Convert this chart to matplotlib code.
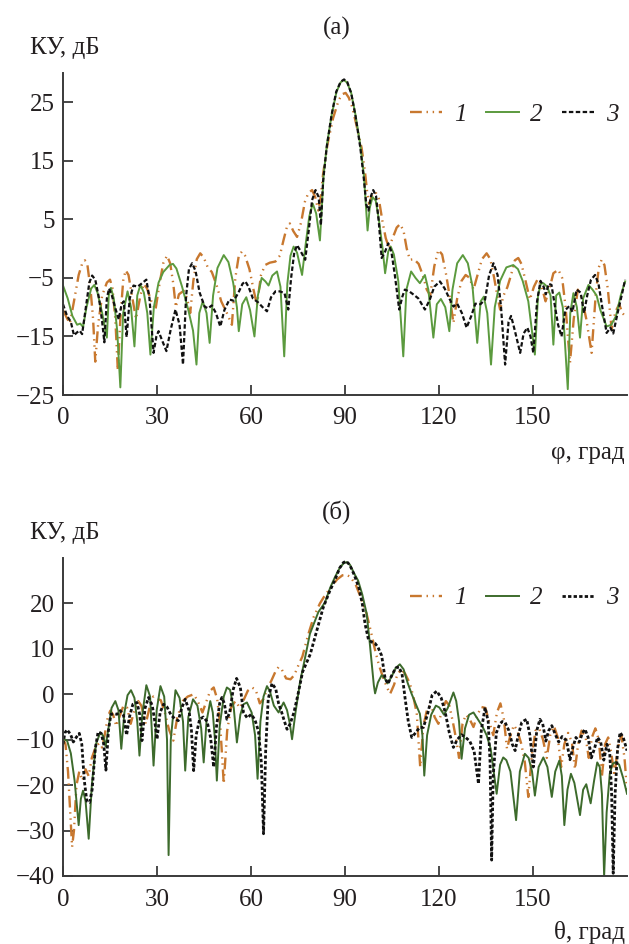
import numpy as np
import matplotlib
matplotlib.use("Agg")
import matplotlib.pyplot as plt

plt.rcParams['font.family'] = ['Liberation Serif', 'DejaVu Serif']
plt.rcParams['font.size'] = 18
plt.rcParams['axes.unicode_minus'] = True

# (a) gain vs phi: (deg, dB)
phi_1 = [(0, -10.5), (1.2, -11.8), (2.2, -12.8), (3.5, -9), (5, -4.5), (6.2, -2.4), (7, -2), (7.8, -2.8),
         (8.8, -7), (9.6, -12), (10.3, -19.3), (11.2, -13), (12.5, -8), (14, -5.8), (15, -5.3), (15.8, -6.8),
         (16.7, -12), (17.5, -20.8), (18.3, -12), (19.2, -5.5), (20, -3.7), (20.9, -4.5), (22, -8), (23.3, -12),
         (24.7, -8), (25.8, -6), (26.8, -6.8), (28.2, -9), (29.5, -10.5), (30.8, -6), (32, -2.5), (33.2, -1.2),
         (34.2, -2.5), (35.2, -6), (36, -10), (37, -7.8), (38.5, -7.2), (39.6, -8.5), (40.6, -11), (41.6, -5.5),
         (42.7, -1.8), (43.8, -0.8), (44.9, -1.5), (46.2, -3.2), (47.5, -4), (49, -6.2), (50.5, -9), (52.3, -11),
         (53.9, -13), (55, -5), (56.1, -1.2), (57.1, -0.5), (58.1, -1.2), (59.5, -3.5), (60.8, -7), (61.9, -9.6),
         (63.2, -4.5), (64.5, -2.8), (66, -2.4), (67.8, -2.2), (69.2, -1.2), (70.4, 1.5), (71.5, 3.8), (72.4, 4.3),
         (73.5, 3), (74.7, 2), (76, 4.5), (77.2, 8), (78.3, 9.5), (79.5, 10), (80.5, 8.8), (81.5, 6.5), (82.3, 9),
         (83, 12.7), (84.4, 17.8), (86.2, 22.3), (88, 25.4), (89.2, 26.4), (90.2, 26.6), (91.2, 25.8), (92.3, 24.2),
         (93.7, 21), (95.3, 17.2), (96.4, 13), (97.1, 9.5), (97.7, 7.6), (98.7, 9.3), (99.8, 9.6), (100.8, 8.5),
         (102, 4.5), (103, 1.8), (104, 0.2), (105.2, 1.8), (106.5, 3.6), (107.6, 4.2), (108.7, 3), (109.7, 0),
         (110.7, -1.9), (112, -1.8), (113.5, -2.6), (114.8, -4.5), (116.1, -7), (117.2, -8), (118.5, -3),
         (119.8, -0.2), (121, -1), (122.3, -4.5), (123.5, -8.5), (124.6, -12.7), (125.8, -8.5), (127.2, -5.5),
         (128.5, -4.5), (129.8, -5), (131, -7), (132.3, -4.5), (133.7, -1.8), (135.2, -0.8), (136.4, -1.8),
         (137.6, -5), (138.6, -8), (139.5, -10.4), (140.6, -8), (141.8, -6.6), (143, -4.5), (144.2, -2),
         (145.3, -1.6), (146.3, -2.6), (147.4, -5), (149, -8.7), (150.3, -6.5), (151.5, -5.2), (152.8, -6.5),
         (154, -9), (155.2, -7), (156.5, -4.2), (158.1, -3.6), (159.3, -5), (160.4, -10), (161.8, -19.5),
         (163, -12), (164.3, -7), (165.6, -8.5), (167, -12), (168.7, -17.8), (170, -8), (171, -3.2), (171.9, -1.9),
         (172.8, -2.8), (173.9, -7), (175.1, -13.8), (176.3, -10.8), (177.5, -9.5), (178.5, -11), (179.4, -11.5)]

phi_2 = [(0, -6.3), (1.5, -8.5), (3, -11.5), (4.5, -13), (5.5, -12.8), (6.4, -13.4), (7.5, -10), (9, -6.8),
         (10, -6.2), (11, -7.5), (12.5, -11), (14, -15.2), (14.6, -8), (15.3, -6.7), (16.2, -8.5), (17.3, -14),
         (18.3, -23.7), (19.2, -11), (20.6, -7.3), (21.7, -10), (22.8, -16.7), (23.7, -8), (24.7, -6.2),
         (25.8, -7.5), (26.9, -11), (27.9, -18.1), (29, -10), (30.5, -5.8), (32, -4), (34, -2.8), (35.1, -2.6),
         (36.2, -3.4), (38, -6.5), (40, -10.5), (41.5, -14), (42.6, -19.8), (43.5, -11), (44.6, -9), (45.8, -11),
         (46.8, -16.1), (47.9, -8), (49.3, -3.3), (51.3, -1.1), (52.8, -2.3), (54.3, -5.8), (55.5, -10),
         (56.1, -14.1), (57.2, -9.5), (58.5, -8.3), (59.7, -10.5), (61.1, -15), (62.2, -8), (63.4, -5),
         (64.6, -5.6), (65.6, -6.3), (66.8, -4.6), (68.3, -3.9), (69.4, -6.5), (70.6, -18.4), (71.6, -6),
         (72.6, -1.2), (73.6, 0.35), (74.7, -0.7), (76.3, -4.5), (77.5, 1), (78.6, 5.5), (79.7, 7.7), (80.8, 6),
         (82, 1.4), (82.6, 7), (83.2, 12.7), (84.3, 18), (85.8, 23), (87.3, 26.8), (88.6, 28.4), (89.6, 28.8),
         (90.6, 28.4), (91.9, 26.8), (93.3, 23), (94.8, 18), (96.0, 12.7), (96.7, 7), (97.2, 3.1), (97.9, 7),
         (98.8, 8.8), (99.8, 8.2), (100.8, 5), (102.0, 0), (102.8, -4.2), (103.8, -0.5), (104.6, 0.35),
         (105.6, -1), (107, -5.5), (108.6, -18.4), (109.6, -7), (111.1, -3.9), (112.5, -5), (113.9, -5.9),
         (115.5, -4.5), (116.6, -7), (118.2, -15.2), (119.3, -9.5), (120.6, -8.6), (122, -10), (123.3, -14.1),
         (124.3, -7), (125.8, -2.5), (127.6, -1.1), (129.2, -2.5), (130.7, -6.5), (132.2, -16.1), (133.3, -9),
         (134.3, -8.2), (135.4, -11), (136.6, -19.8), (137.8, -10), (139.5, -5.5), (141.5, -3.2), (143.7, -2.8),
         (145.2, -3.5), (146.7, -5.5), (148.5, -9), (150.6, -18.1), (151.6, -8), (152.5, -6), (153.3, -5.9),
         (154.5, -6.5), (155.6, -8), (156.5, -16.4), (157.4, -8), (158.4, -7.5), (159.5, -10), (161.1, -24),
         (161.9, -11), (162.9, -7.6), (164, -10), (165, -15.2), (166, -8.5), (167.7, -6.2), (169, -7),
         (170.3, -8), (171.5, -10.5), (173.5, -13.3), (175, -13), (176.5, -11.5), (178, -8), (179.4, -5.6)]

phi_3 = [(0, -9.5), (1.3, -11.5), (2.5, -12.5), (3.5, -14.8), (4.5, -14.3), (5.3, -14.0), (6.1, -14.6),
         (7.3, -10), (8.4, -5.8), (9.3, -4.6), (10.3, -5.3), (11.5, -8.5), (12.5, -12.5), (13.2, -16), (14, -8.5),
         (14.7, -6.8), (15.6, -8), (16.6, -10), (17.8, -12.1), (18.7, -9.5), (19.4, -9), (20.3, -15.1),
         (21.3, -8.5), (22.5, -6.3), (23.8, -6.5), (25, -6), (26.6, -5.3), (27.6, -8.5), (28.9, -17.8),
         (29.8, -15), (30.5, -14.1), (31.5, -15.5), (33, -17.5), (34.3, -14), (35.9, -10.4), (37.2, -13),
         (38.3, -19.8), (39.3, -8), (40.2, -3.5), (41.2, -2.5), (42.3, -3.8), (43.6, -7.5), (45.2, -9.9),
         (46.3, -10.2), (47.5, -9.7), (48.8, -11), (50.2, -13.3), (51.5, -10.5), (53.1, -8.7), (54.5, -8.9),
         (56, -7.5), (57.3, -6), (58.2, -5.6), (59.2, -6.5), (60.6, -8.5), (62.3, -9.2), (63.7, -10),
         (65.1, -10.7), (66.4, -8.3), (67.8, -7.3), (69.2, -7.3), (70.7, -7.6), (71.9, -10.4), (72.8, -5),
         (73.8, -0.7), (74.7, 0.6), (75.7, -0.3), (77.3, -1.9), (78.4, 3), (79.5, 8.3), (80.6, 10), (81.6, 8.8),
         (82.3, 4), (83, 11.5), (84.2, 17.5), (85.7, 22.8), (87.2, 26.8), (88.6, 28.5), (89.7, 28.9),
         (90.7, 28.5), (92, 26.5), (93.4, 22.5), (94.9, 17.2), (96.1, 11.5), (96.8, 7.5), (97.5, 6.5), (98.3, 9),
         (99, 10), (99.9, 9), (100.8, 4.5), (101.7, -1.6), (102.8, -0.5), (103.8, 0.9), (104.8, -0.5),
         (105.9, -4.5), (107.3, -10.4), (108.3, -8.2), (109.1, -7), (110.5, -7.3), (112, -7.9), (113.4, -8.5),
         (115.5, -10.4), (117, -8.8), (118.5, -6.5), (120.3, -5.6), (121.8, -6.8), (123.2, -8.4), (124.6, -9.9),
         (125.8, -9.4), (127.3, -11), (128.8, -13.5), (130.3, -11.5), (131.6, -9.4), (133.2, -9.5),
         (134.7, -8.7), (136, -4.5), (137.4, -2.5), (138.7, -4.5), (139.8, -10), (141.1, -19.8), (142.2, -12.5),
         (143, -11.5), (144.2, -14), (145.9, -17.8), (147, -14.5), (148.2, -13.5), (149.2, -15), (150.1, -17.8),
         (151.3, -9), (152.4, -5.5), (153.4, -6.5), (154.1, -7.8), (155.0, -6), (155.9, -6.2), (156.9, -9.5),
         (158, -13), (159.1, -15), (160.3, -10.5), (161.6, -9.8), (162.6, -10.8), (163.9, -7), (165.2, -7.5),
         (166.3, -11), (167.3, -8), (168.5, -5.3), (169.8, -4.5), (170.9, -6), (172.1, -10), (173.5, -14.4),
         (174.7, -13.5), (175.6, -14.5), (177, -11), (178.3, -8), (179.4, -5.3)]

# (б) gain vs theta
theta_1 = [(0, -9.8), (0.8, -11), (1.6, -17), (2.3, -26), (2.9, -33.6), (3.5, -30), (4.3, -20), (5.2, -17),
           (6.2, -19), (7.2, -16.5), (8.2, -18), (9.2, -14), (10.5, -11.5), (11.5, -10.8), (12.4, -11.7),
           (13.3, -9), (14.3, -5), (15.1, -3.6), (16, -4.5), (17, -7), (18, -5), (19.3, -2.5), (20.5, -3),
           (21.6, -6.5), (22.6, -4), (24, -1.5), (25, -2.5), (26.4, -6.5), (27.6, -3), (28.8, -0.5), (30, -1),
           (31.2, -1.3), (32.5, -4), (33.8, -7.7), (35.2, -10.2), (36.5, -5), (38.2, -1.5), (39.8, -0.5),
           (41.7, 0), (43, -1.5), (44.5, -4), (45.8, -1.5), (47, 0.8), (48.1, 1.5), (49.2, -1), (50.2, -7),
           (51.3, -19.7), (52.4, -8), (53.6, -3), (55, -1.5), (56.5, -3), (57.8, -1), (59, 0.8), (60.3, 1.5),
           (61.5, 1), (62.8, -2), (64, -1), (65.1, 1.1), (66.5, 3), (67.8, 5), (68.8, 6), (69.8, 5.5), (71.2, 3.5),
           (72.6, 3.3), (73.8, 4.2), (75.2, 6.5), (76.4, 8.3), (78.2, 13), (80, 17), (82, 20), (83.6, 21.8),
           (85.5, 23.5), (87.5, 25.3), (89.2, 26.2), (90.5, 26.3), (91.8, 25.8), (93.5, 24), (95.2, 21),
           (96.9, 17.7), (98.2, 14), (99.5, 10), (100.8, 6.5), (102, 4), (103.4, 1.5), (104.4, 0.1), (105.6, 2),
           (106.8, 4.5), (108, 5.5), (109.2, 4.5), (110.7, 2.4), (111.8, -0.5), (112.9, -4.2), (114, -16),
           (115, -7), (116.3, -3), (117.5, -2.5), (118.6, -5), (119.8, -6.5), (121, -3.5), (122.2, -1.5),
           (123.3, -2.5), (124.4, -6), (125.5, -10), (126.4, -14), (127.5, -6.5), (128.6, -4.5), (129.8, -5.5),
           (131, -7.2), (132.3, -4.5), (133.5, -2.8), (134.8, -3), (136, -6), (137.3, -9), (138.5, -4),
           (139.6, -2), (140.7, -5.5), (141.7, -12), (142.8, -9), (143.9, -6.8), (145, -8), (146.3, -11),
           (147.4, -15), (148.5, -22.6), (149.6, -13.5), (150.8, -8), (152, -7.5), (153.2, -10), (154.4, -14),
           (155.5, -9), (156.7, -7), (157.9, -9.5), (159, -16), (160, -11), (161.2, -8.5), (162.4, -10.5),
           (163.4, -16.5), (164.4, -11), (165.5, -8), (166.8, -9.5), (167.8, -14), (168.8, -9.5), (169.9, -7.5),
           (171, -10), (172, -18), (173, -11), (174, -9.5), (175, -13), (176, -18), (177, -12), (178.2, -9),
           (179.2, -14), (180, -21)]

theta_2 = [(0, -9.8), (1.3, -10.2), (2.5, -13), (3.7, -19), (5, -28.8), (5.7, -23), (6.4, -21.2), (7.2, -23.5),
           (8.2, -31.8), (9.2, -20), (10.5, -11), (11.9, -8.4), (12.9, -9.2), (13.6, -11.5), (14.4, -8), (15.5, -3),
           (16.7, -1.5), (17.7, -3.5), (18.6, -12), (19.6, -4), (20.6, -0.2), (21.7, 0.9), (22.8, -0.8),
           (23.7, -6), (24.4, -13.5), (25.3, -4.5), (26.6, 2), (27.8, -0.5), (28.9, -15.7), (29.9, -3.5),
           (31.1, 1.8), (32.3, -0.5), (33.2, -10), (33.7, -35.4), (34.4, -10), (35.9, 0.9), (37.2, -0.8),
           (38.3, -6), (39, -16.8), (40, -5), (41.5, -1.1), (42.9, -2.5), (44.1, -7.5), (44.9, -15), (45.8, -6),
           (47, -1.5), (47.8, -4), (48.5, -10), (49.1, -19), (50, -7), (51.3, -0.5), (52.3, 1.5), (53.3, 1),
           (54.5, -3), (55.5, -10.6), (56.6, -4.5), (57.6, -2.2), (58.7, -1.8), (60.2, -4), (61.3, -9),
           (62.1, -18.6), (63, -6), (64, -0.5), (65.1, 1.8), (66.1, 0.5), (67.3, -2.5), (68.8, -4), (70.4, -1.8),
           (71.5, -3.5), (72.4, -6.5), (73.1, -9.9), (74.2, -4), (75.7, 2.9), (76.8, 6.5), (78.8, 13.3),
           (81.5, 18.1), (83.6, 20.2), (85.3, 23.5), (86.8, 25.8), (88.3, 27.8), (89.5, 28.8), (90.5, 29.1),
           (91.6, 28.5), (93, 26.5), (94.2, 25), (95.5, 22), (96.9, 17.8), (97.8, 12), (98.5, 7), (99.2, 2),
           (99.6, 0.2), (100.5, 2.6), (101.7, 4.2), (102.7, 3.5), (103.6, 2.4), (104.8, 3.8), (106.2, 5.8),
           (107.5, 6.6), (108.7, 5.5), (110, 2.5), (111.2, 0.2), (112.5, -2), (113.9, -4.3), (114.7, -9),
           (115.3, -17.9), (116.2, -9), (117.5, -4.5), (119, -2.5), (120.1, -2.9), (121.6, -4.5), (122.8, -3),
           (124.6, 0.4), (125.5, -1.5), (126.4, -6), (127.2, -14.2), (128.3, -7.5), (129.6, -4.5), (131, -4),
           (132.4, -5.5), (133.8, -7), (135.2, -9), (136.5, -12), (138.4, -21.9), (139.5, -15.5), (140.5, -13.9),
           (141.5, -14.5), (142.8, -17), (144.6, -27.7), (145.8, -17), (147.4, -13.1), (148.6, -14), (149.7, -17),
           (150.6, -22.3), (151.8, -16), (153.3, -13.9), (154.6, -16), (156, -22.6), (157.1, -17), (158.4, -14.6),
           (159.2, -18), (160, -28.8), (161, -21), (162.1, -17.5), (163.2, -19.5), (165, -26.6), (166, -21),
           (167, -19.8), (168.4, -24), (169.5, -19), (170.5, -15), (171.3, -16), (172, -22), (172.7, -40),
           (173.5, -26), (174.5, -17.5), (175.4, -15.3), (176.5, -14.9), (177.5, -15.5), (178.8, -18.5),
           (180, -21.9)]

theta_3 = [(0, -11), (0.6, -8.5), (1.3, -7.8), (2.4, -8.8), (3.3, -10.5), (4.2, -9.5), (5.2, -8.6), (6.0, -11),
           (6.8, -19), (7.6, -23.5), (8.5, -23.8), (9.3, -21), (10.3, -12), (11.2, -8.3), (12.2, -8.6), (13, -11),
           (13.7, -16.7), (14.5, -8), (15.3, -4.4), (16.2, -4.3), (17.2, -4.4), (18.3, -3.6), (19.3, -4.6),
           (20.3, -9), (21.2, -5), (22.3, -2.2), (23.6, -1.8), (24.5, -4.5), (25.2, -10.2), (26.2, -3),
           (27.3, -0.7), (28.5, -2.5), (29.3, -6), (30, -9.9), (31, -4), (32.1, -2.2), (33.2, -2.8), (34.5, -4.6),
           (35.9, -5.5), (36.8, -5.8), (37.9, -3), (39, -1.1), (40.2, -3.5), (41, -8), (41.7, -16.8), (42.5, -9),
           (43.6, -5.5), (44.8, -5), (46, -6), (47.1, -9.5), (48.1, -16), (49, -7), (50, -2), (50.7, -0.7),
           (51.5, -2), (52.3, -5.5), (53.2, -4), (54.3, 1), (55.4, 3.5), (56.6, 1.5), (57.6, -4), (58.8, -5.2),
           (60.1, -4.4), (61.3, -5.7), (62.4, -8.2), (63.3, -15), (64, -30.7), (64.7, -12), (65.5, -1), (66.7, 2.4),
           (67.9, 1.2), (68.8, -2), (69.8, -4), (70.6, -5.8), (71.5, -7.7), (72.5, -6.5), (73.7, -4), (75, 0),
           (76.5, 5), (78.9, 8.8), (81, 14), (83, 19), (85, 22.5), (86.8, 25.2), (88.3, 27.8), (89.5, 29),
           (90.4, 29.3), (91.5, 28.5), (93, 26.2), (94.4, 23.5), (95.5, 20), (96.4, 15.5), (97.5, 12), (98.5, 11.5),
           (99.6, 11.2), (100.5, 10.4), (101.7, 8.5), (102.8, 3.5), (103.7, 2.3), (104.8, 4), (106.2, 5.8),
           (107.2, 6), (108.2, 4.5), (109.2, -1), (110.2, -6), (111.3, -9.5), (112.5, -8.5), (113.8, -7.3),
           (115, -7.3), (116.3, -4.5), (117.8, -0.2), (119.3, 0.7), (120.7, -0.8), (122, -4), (123.3, -8.5),
           (124.6, -11.7), (125.8, -10), (127.2, -8.9), (128.5, -9.5), (129.8, -10.3), (131.2, -12.5),
           (132.6, -19.7), (133.5, -8), (134.7, -2.9), (135.7, -6), (136.3, -15), (136.8, -36.5), (137.3, -18),
           (138.3, -8.5), (139.4, -6.5), (140.2, -6), (141.1, -6.2), (142.3, -8), (143.4, -11), (144.3, -12.4),
           (145.3, -9), (146.4, -6.2), (147.2, -5.8), (148, -5.5), (149, -9), (150.1, -16), (151.2, -8),
           (152.2, -5.5), (153.1, -6.5), (154.1, -10.3), (155, -8), (156, -6.9), (157.1, -8.8), (158.2, -10.5),
           (159.3, -9.3), (160.7, -10.2), (161.8, -14.4), (162.8, -11.5), (163.7, -9.5), (164.8, -10.5),
           (165.8, -8.5), (166.6, -7.7), (167.6, -9.5), (168.6, -14), (169.6, -12), (170.6, -9.5), (171.6, -10.5),
           (172.6, -14.5), (173.6, -11), (174.5, -13), (175.1, -22), (175.6, -39.4), (176.2, -22), (177, -12),
           (177.8, -8.4), (178.8, -9.5), (180, -12.4)]

labels = ['1', '2', '3']
x_ticks = [0, 30, 60, 90, 120, 150]
y_ticks_a = [-25, -15, -5, 5, 15, 25]
y_ticks_b = [-40, -30, -20, -10, 0, 10, 20]

TXT = '#231f20'
ORANGE = '#c8782f'


def draw(ax, s1, s2, s3, green, black_lw, black_dash, yticks, ylim, leg_y):
    x, y = np.array(s1).T
    ax.plot(x, y, color=ORANGE, lw=1.7, dashes=(5, 2, 0.6, 2, 0.6, 2), label=labels[0])
    x, y = np.array(s2).T
    ax.plot(x, y, color=green, lw=1.4, label=labels[1])
    x, y = np.array(s3).T
    ax.plot(x, y, color='#111111', lw=black_lw, dashes=black_dash, label=labels[2])

    ax.set_xlim(0, 180)
    ax.set_ylim(*ylim)
    ax.set_xticks(x_ticks)
    ax.set_yticks(yticks)
    for s in ['top', 'right']:
        ax.spines[s].set_visible(False)
    for s in ['left', 'bottom']:
        ax.spines[s].set_linewidth(1.4)
        ax.spines[s].set_color('#3a3a3a')
    ax.tick_params(direction='in', length=7, width=1.3, color='#3a3a3a', labelcolor=TXT, labelsize=18)
    ax.tick_params(axis='x', pad=9)
    ax.tick_params(axis='y', pad=6)
    leg = ax.legend(loc='center left', bbox_to_anchor=(0.615, leg_y), ncol=3, frameon=False,
                    handlelength=1.3, handletextpad=0.45, columnspacing=0.8, borderpad=0, borderaxespad=0,
                    prop={'style': 'italic', 'size': 18})
    for t in leg.get_texts():
        t.set_color(TXT)


fig = plt.figure(figsize=(6.29, 9.44), dpi=100)
ax1 = fig.add_axes([63 / 629, 1 - 395 / 944, 564 / 629, 322 / 944])
ax2 = fig.add_axes([63 / 629, 1 - 876 / 944, 564 / 629, 318 / 944])

draw(ax1, phi_1, phi_2, phi_3, '#5b9a3e', 1.6, (2.0, 1.1), y_ticks_a, (-25, 30), 0.87)
draw(ax2, theta_1, theta_2, theta_3, '#3d6b2c', 2.0, (1.2, 0.8), y_ticks_b, (-40, 30), 0.874)

fig.text(337 / 629, 1 - 28 / 944, '(a)', ha='center', va='center', color=TXT)
fig.text(337 / 629, 1 - 512 / 944, '(б)', ha='center', va='center', color=TXT)
fig.text(30 / 629, 1 - 48 / 944, 'КУ, дБ', ha='left', va='center', color=TXT)
fig.text(30 / 629, 1 - 533 / 944, 'КУ, дБ', ha='left', va='center', color=TXT)
fig.text(625 / 629, 1 - 453 / 944, 'φ, град', ha='right', va='center', color=TXT)
fig.text(625 / 629, 1 - 933 / 944, 'θ, град', ha='right', va='center', color=TXT)

fig.savefig('out.png', dpi=100)
